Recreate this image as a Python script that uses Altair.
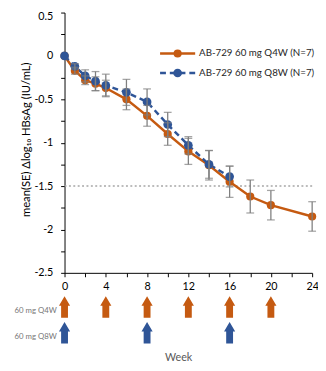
import altair as alt
import pandas as pd

# ---- data ----
weeks_q4w = [0, 1, 2, 3, 4, 6, 8, 10, 12, 14, 16, 18, 20, 24]
mean_q4w = [0, -0.17, -0.28, -0.32, -0.37, -0.50, -0.69, -0.90, -1.10, -1.26, -1.45, -1.62, -1.72, -1.85]
se_q4w = [0, 0.04, 0.05, 0.08, 0.09, 0.12, 0.12, 0.13, 0.15, 0.17, 0.18, 0.19, 0.17, 0.17]

weeks_q8w = [0, 1, 2, 3, 4, 6, 8, 10, 12, 14, 16]
mean_q8w = [0, -0.12, -0.23, -0.29, -0.34, -0.42, -0.53, -0.79, -1.03, -1.25, -1.39]
se_q8w = [0, 0.03, 0.07, 0.11, 0.13, 0.15, 0.15, 0.14, 0.10, 0.16, 0.12]

series_names = ["AB-729 60 mg Q4W (N=7)", "AB-729 60 mg Q8W (N=7)"]
dose_q4w = [0, 4, 8, 12, 16, 20]
dose_q8w = [0, 8, 16]
dose_labels = ["60 mg Q4W", "60 mg Q8W"]
threshold = [-1.5]
x_ticks = list(range(0, 25, 2))
y_ticks = [-2.5 + 0.25 * i for i in range(13)]

FONT = "Lato"
ORANGE = "#C55A11"
BLUE = "#2F5597"
GREY = "#7F7F7F"
ARROW = "M -0.32 1 L -0.32 -0.12 L -0.52 -0.12 L 0 -1 L 0.52 -0.12 L 0.32 -0.12 L 0.32 1 Z"


def frame(w, m, s):
    d = pd.DataFrame({"week": w, "mean": m, "se": s})
    d["lo"] = d["mean"] - d["se"]
    d["hi"] = d["mean"] + d["se"]
    return d


q4 = frame(weeks_q4w, mean_q4w, se_q4w)
q8 = frame(weeks_q8w, mean_q8w, se_q8w)

x_scale = alt.Scale(domain=[0, 24], nice=False, zero=False)
y_scale = alt.Scale(domain=[-2.5, 0.5], nice=False, zero=False)

x_axis = alt.Axis(
    values=x_ticks,
    labelExpr="datum.value % 4 == 0 ? '' + datum.value : ''",
    grid=False, tickSize=4, tickColor="#000", domainColor="#000",
    labelFont=FONT, labelFontSize=11, labelColor="#000", labelPadding=4,
    labelFlush=False, labelOverlap=False, title=None,
)
y_axis = alt.Axis(
    values=y_ticks,
    labelExpr="(datum.value * 2) % 1 == 0 ? '' + datum.value : ''",
    grid=False, tickSize=4, tickColor="#000", domainColor="#000",
    labelFont=FONT, labelFontSize=11, labelColor="#000", labelPadding=8,
    labelFlush=False, labelOverlap=False,
    labelOffset={"condition": {"test": "datum.value >= 0.5", "value": 4}, "value": 0},
    title="mean(SE) Δlog₁₀ HBsAg (IU/mL)",
    titleFont=FONT, titleFontSize=11.5, titleFontWeight="normal", titleColor="#000",
    titleAngle=270, titleAlign="center", titleBaseline="middle",
    titleX=-39, titleY=130,
)

X = alt.X("week:Q", scale=x_scale, axis=x_axis)
Y = alt.Y("mean:Q", scale=y_scale, axis=y_axis)

ref = alt.Chart(pd.DataFrame({"mean": threshold})).mark_rule(
    color="#A6A6A6", strokeDash=[2, 2.5], strokeWidth=1.5
).encode(y=Y)

line4 = alt.Chart(q4).mark_line(color=ORANGE, strokeWidth=2.5).encode(x=X, y=Y)
line8 = alt.Chart(q8).mark_line(color=BLUE, strokeWidth=2.5, strokeDash=[6, 4]).encode(x=X, y=Y)
pts4 = alt.Chart(q4).mark_circle(color=ORANGE, size=70, opacity=1).encode(x=X, y=Y)
pts8 = alt.Chart(q8).mark_circle(color=BLUE, size=80, opacity=1).encode(x=X, y=Y)


def errbars(d):
    d = d[d["se"] > 0]
    base = alt.Chart(d)
    bar = base.mark_rule(color=GREY, strokeWidth=1.3).encode(
        x=X, y=alt.Y("lo:Q", scale=y_scale, axis=y_axis), y2="hi:Q"
    )
    lo = base.mark_tick(color=GREY, orient="horizontal", size=8, thickness=1.3).encode(
        x=X, y=alt.Y("lo:Q", scale=y_scale, axis=y_axis)
    )
    hi = base.mark_tick(color=GREY, orient="horizontal", size=8, thickness=1.3).encode(
        x=X, y=alt.Y("hi:Q", scale=y_scale, axis=y_axis)
    )
    return [bar, lo, hi]


# dosing arrows
arr4 = alt.Chart(pd.DataFrame({"week": dose_q4w})).mark_point(
    shape=ARROW, filled=True, size=484, color=ORANGE, opacity=1, strokeWidth=0
).encode(x=X, y=alt.value(302))
arr8 = alt.Chart(pd.DataFrame({"week": dose_q8w})).mark_point(
    shape=ARROW, filled=True, size=484, color=BLUE, opacity=1, strokeWidth=0
).encode(x=X, y=alt.value(328.5))

lab_df = pd.DataFrame({"t": dose_labels, "yy": [306, 332.5]})
dose_text = alt.Chart(lab_df).mark_text(
    align="right", baseline="middle", font=FONT, fontSize=8, color="#767676"
).encode(x=alt.value(-8), y=alt.Y("yy:Q", scale=None), text="t:N")

week_text = alt.Chart(pd.DataFrame({"t": ["Week"]})).mark_text(
    align="center", baseline="middle", font=FONT, fontSize=11, color="#595959"
).encode(x=alt.value(117), y=alt.value(354.5), text="t:N")

# legend
leg_df = pd.DataFrame({"name": series_names, "yy": [42, 62]})
leg_line4 = alt.Chart(leg_df.iloc[[0]]).mark_rule(color=ORANGE, strokeWidth=2.5).encode(
    x=alt.value(98), x2=alt.value(134), y=alt.Y("yy:Q", scale=None)
)
leg_line8 = alt.Chart(leg_df.iloc[[1]]).mark_rule(color=BLUE, strokeWidth=2.5, strokeDash=[6, 4]).encode(
    x=alt.value(98), x2=alt.value(134), y=alt.Y("yy:Q", scale=None)
)
leg_pt4 = alt.Chart(leg_df.iloc[[0]]).mark_circle(color=ORANGE, size=70, opacity=1).encode(
    x=alt.value(116), y=alt.Y("yy:Q", scale=None)
)
leg_pt8 = alt.Chart(leg_df.iloc[[1]]).mark_circle(color=BLUE, size=80, opacity=1).encode(
    x=alt.value(116), y=alt.Y("yy:Q", scale=None)
)
leg_text = alt.Chart(leg_df).mark_text(
    align="left", baseline="middle", font=FONT, fontSize=10, color="#262626"
).encode(x=alt.value(138), y=alt.Y("yy:Q", scale=None), text="name:N")

layers = [ref, line4, line8, pts4, pts8] + errbars(q4) + errbars(q8) + [
    arr4, arr8, dose_text, week_text,
    leg_line4, leg_line8, leg_pt4, leg_pt8, leg_text,
]

chart = alt.layer(*layers).properties(
    width=254,
    height=267,
    autosize=alt.AutoSizeParams(type="none"),
    padding={"left": 58, "top": 0, "right": 6, "bottom": 96},
    background="white",
).configure_view(stroke=None)

chart.save("out.html", embed_options={"renderer": "svg", "actions": False})
